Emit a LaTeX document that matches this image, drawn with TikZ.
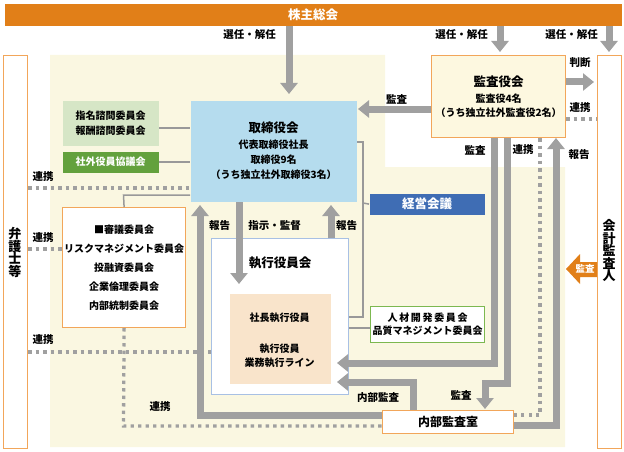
\documentclass[tikz,border=0pt]{standalone}
\usepackage{fontspec}
\setmainfont{Noto Sans CJK JP}
\usetikzlibrary{arrows.meta}
\definecolor{orangebar}{HTML}{E17F18}
\definecolor{orangeline}{HTML}{F2A65A}
\definecolor{cream}{HTML}{FAF7E1}
\definecolor{auditfill}{HTML}{FDF8E0}
\definecolor{boardblue}{HTML}{B5DCEE}
\definecolor{lightgreen}{HTML}{D6E6C6}
\definecolor{darkgreen}{HTML}{63A13D}
\definecolor{mtgblue}{HTML}{3F6DB4}
\definecolor{peach}{HTML}{F9E4CB}
\definecolor{execline}{HTML}{A8C0E4}
\definecolor{greenline}{HTML}{7CB850}
\definecolor{arrgray}{HTML}{A0A0A0}
\definecolor{linegray}{HTML}{999999}
\begin{document}
\begin{tikzpicture}[x=1pt,y=-1pt,
  font=\bfseries\fontsize{10}{12}\selectfont,
  box/.style={line width=1.2pt, inner sep=0pt, anchor=north west, align=center},
  bigarrow/.style={draw=arrgray, line width=7pt, -{Triangle[width=17pt,length=11pt]}},
  dotline/.style={draw=arrgray, line width=3.3pt, dash pattern=on 3.3pt off 4.2pt},
  thinline/.style={draw=linegray, line width=1.5pt},
  lbl/.style={inner sep=0pt, font=\bfseries\fontsize{10.5}{12}\selectfont},
  ttl/.style={font=\bfseries\fontsize{12.5}{15}\selectfont},
  txt/.style={inner sep=0pt},
]
\useasboundingbox (0,0) rectangle (624,452);
% background
\fill[cream] (50,55) -- (385,55) -- (385,167) -- (565,167) -- (565,447) -- (50,447) -- cycle;

% boxes
\node[box, fill=orangebar, text=white, minimum width=617pt, minimum height=22pt, ttl] (agm) at (4,3) {株主総会};
\node[box, draw=orangeline, fill=white, minimum width=24pt, minimum height=393pt] (lawyer) at (3,55) {};
\node[font=\bfseries\fontsize{13}{12.5}\selectfont, align=center, inner sep=0pt] (lawyerT) at (15,252.5) {弁\\護\\士\\等};
\node[box, draw=orangeline, fill=white, minimum width=24pt, minimum height=393pt] (auditor) at (597,55) {};
\node[font=\bfseries\fontsize{13}{12.5}\selectfont, align=center, inner sep=0pt] (auditorT) at (609,251) {会\\計\\監\\査\\人};

\node[box, draw=orangeline, fill=auditfill, minimum width=134pt, minimum height=82pt, font=\bfseries\fontsize{10}{14}\selectfont] (audit) at (431,55)
  {{\fontsize{12.5}{15}\selectfont 監査役会}\\[2.5pt]監査役4名\\（うち独立社外監査役2名）};

\node[box, fill=boardblue, minimum width=166pt, minimum height=101pt, font=\bfseries\fontsize{10}{15}\selectfont] (board) at (190,100)
  {{\fontsize{12.5}{15}\selectfont 取締役会}\\[1pt]代表取締役社長\\取締役9名\\（うち独立社外取締役3名）};

\node[box, fill=lightgreen, minimum width=96pt, minimum height=45pt, font=\bfseries\fontsize{10}{15}\selectfont] (nomin) at (62,100)
  {指名諮問委員会\\報酬諮問委員会};
\node[box, fill=darkgreen, text=white, minimum width=96pt, minimum height=21pt] (outside) at (62,151) {社外役員協議会};

\node[box, draw=orangeline, fill=white, minimum width=123pt, minimum height=120pt, font=\bfseries\fontsize{10}{19}\selectfont] (council) at (62,207)
  {■審議委員会\\リスクマネジメント委員会\\投融資委員会\\企業倫理委員会\\内部統制委員会};

\node[box, draw=execline, line width=1pt, fill=white, minimum width=137pt, minimum height=156pt] (exec) at (211,238) {};
\node[ttl, inner sep=0pt] (execT) at (280,263) {執行役員会};
\node[box, fill=peach, minimum width=101pt, minimum height=90pt] (pres) at (229,293) {};
\node[txt] (presT1) at (279.5,318) {社長執行役員};
\node[txt] (presT2) at (279.5,349) {執行役員};
\node[txt] (presT3) at (279.5,363) {業務執行ライン};

\node[box, fill=mtgblue, text=white, minimum width=115pt, minimum height=21pt, ttl] (mtg) at (369,193) {経営会議};
\node[box, draw=greenline, fill=white, minimum width=114pt, minimum height=36pt, font=\bfseries\fontsize{10}{13}\selectfont] (hr) at (370,306)
  {人\,材\,開\,発\,委\,員\,会\\品質マネジメント委員会};
\node[box, draw=orangeline, fill=white, minimum width=131pt, minimum height=23pt, font=\bfseries\fontsize{12}{14}\selectfont] (iad) at (382,410) {内部監査室};

% dotted connectors
\draw[dotline] (lawyer.east |- 0,188) -- (board.west |- 0,188);
\draw[dotline] (lawyer.east |- 0,249) -- (council.west |- 0,249);
\draw[dotline] (lawyer.east |- 0,352) -- (exec.west |- 0,352);
\draw[dotline] (council.south) -- (123.5,426) -- (iad.west |- 0,426);
\draw[dotline] (audit.south -| 540,0) -- (540,415) -- (iad.east |- 0,415);
\draw[dotline] (audit.east |- 0,119) -- (auditor.west |- 0,119);

% thin connectors
\draw[thinline] (nomin.east |- 0,128) -- (board.west |- 0,128);
\draw[thinline] (outside.east) -- (board.west |- outside.east);
\draw[thinline] (council.north) -- (123.5,195) -- (board.west |- 0,195);
\draw[thinline] (board.east |- 0,142) -- (363,142) -- (363,317) -- (exec.east |- 0,317);
\draw[thinline] (363,203) -- (mtg.west);
\draw[thinline] (exec.east |- 0,328) -- (hr.west |- 0,328);

% big arrows
\draw[bigarrow] (agm.south -| 289,0) -- (289,94);
\draw[bigarrow] (agm.south -| 500,0) -- (500,52);
\draw[bigarrow] (agm.south -| 609,0) -- (609,52);
\draw[bigarrow] (audit.west |- 0,109) -- (358,109);
\draw[bigarrow] (board.south -| 239,0) -- (239,284);
\draw[bigarrow] (exec.north -| 331,0) -- (331,205);
\draw[bigarrow] (iad.west |- 0,415) -- (200,415) -- (200,205);
\draw[bigarrow] (iad.north -| 413,0) -- (413,382) -- (337,382);
\draw[bigarrow] (audit.south -| 494,0) -- (494,363) -- (337,363);
\draw[bigarrow] (audit.south -| 507,0) -- (507,383) -- (485,383) -- (485,409);
\draw[bigarrow] (iad.east |- 0,425) -- (556,425) -- (556,138);
\draw[bigarrow] (audit.east |- 0,82) -- (594,82);

% orange audit arrow
\fill[orangebar] (566,269) -- (580,254) -- (580,262) -- (597,262) -- (597,277) -- (580,277) -- (580,284) -- cycle;
\node[inner sep=0pt, text=white, font=\bfseries\fontsize{9.5}{11}\selectfont] (oaudit) at (585,269) {監査};

% labels
\node[lbl] (s1) at (249.5,35) {選任・解任};
\node[lbl] (s2) at (461.5,35) {選任・解任};
\node[lbl] (s3) at (571.5,35) {選任・解任};
\node[lbl] (a1) at (396.5,99) {監査};
\node[lbl] (j1) at (580,63) {判断};
\node[lbl] (r1) at (580,108) {連携};
\node[lbl] (a2) at (475,150) {監査};
\node[lbl] (r2) at (523,150) {連携};
\node[lbl] (h1) at (579,155) {報告};
\node[lbl] (r3) at (43,177) {連携};
\node[lbl] (r4) at (43,238) {連携};
\node[lbl] (r5) at (43,340) {連携};
\node[lbl] (r6) at (160,407) {連携};
\node[lbl] (h2) at (219.5,226) {報告};
\node[lbl] (sk) at (274.5,226) {指示・監督};
\node[lbl] (h3) at (346.5,226) {報告};
\node[lbl] (ia) at (378,398) {内部監査};
\node[lbl] (a3) at (461,395) {監査};
\end{tikzpicture}
\end{document}
